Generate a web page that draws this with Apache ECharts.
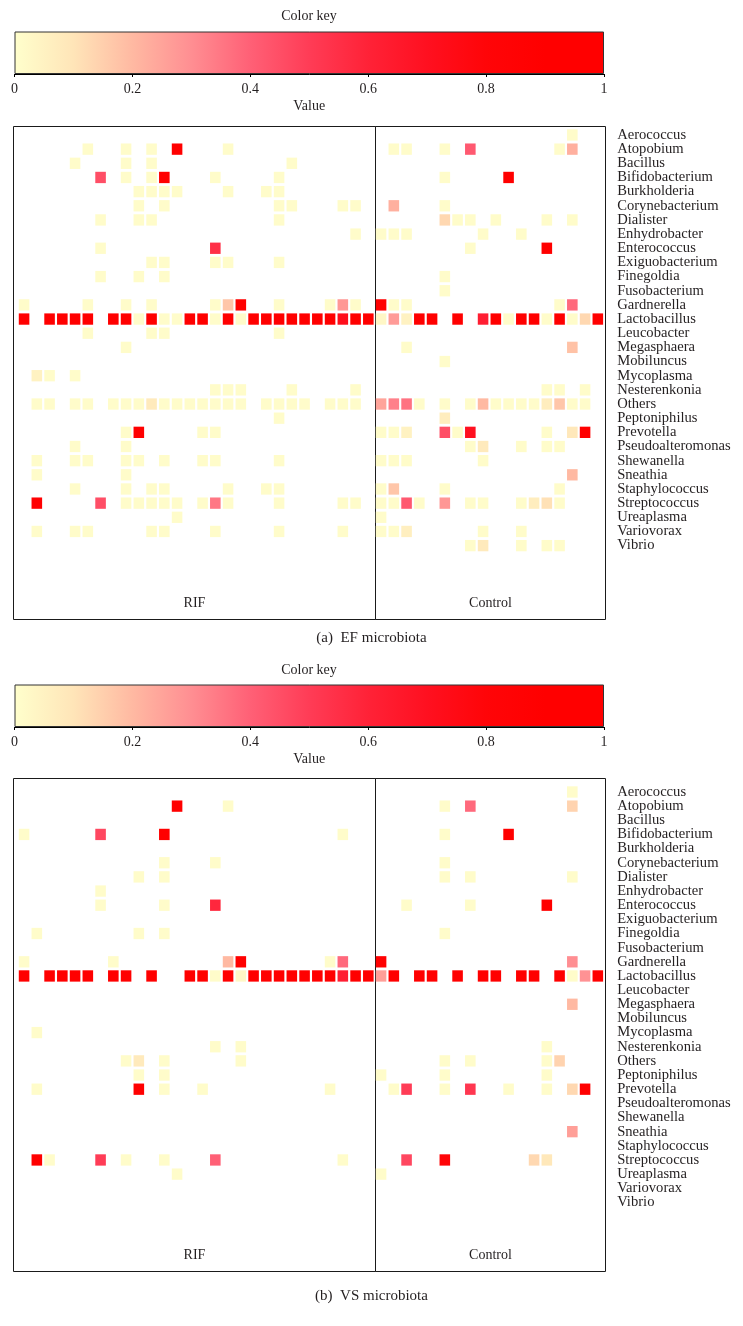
<!DOCTYPE html>
<html><head><meta charset="utf-8">
<script src="https://cdn.jsdelivr.net/npm/echarts@6/dist/echarts.min.js"></script>
<style>html,body{margin:0;padding:0;background:#fff}#c{width:743px;height:1326px}</style>
</head><body><div id="c"></div>
<script>
// ---------------- data ----------------
const genera = ['Aerococcus','Atopobium','Bacillus','Bifidobacterium','Burkholderia','Corynebacterium','Dialister','Enhydrobacter','Enterococcus','Exiguobacterium','Finegoldia','Fusobacterium','Gardnerella','Lactobacillus','Leucobacter','Megasphaera','Mobiluncus','Mycoplasma','Nesterenkonia','Others','Peptoniphilus','Prevotella','Pseudoalteromonas','Shewanella','Sneathia','Staphylococcus','Streptococcus','Ureaplasma','Variovorax','Vibrio'];
const groups = ['RIF', 'Control'];
const groupSizes = [28, 18];
const keyTicks = [0, 0.2, 0.4, 0.6, 0.8, 1];
const captions = ['(a)\u00a0\u00a0EF microbiota', '(b)\u00a0\u00a0VS microbiota'];
const P = 0.01; // pale-yellow cells

// each row: genus, then (sample index within group, value) pairs
const efRIF = [
 ['Atopobium', 5,P, 8,P, 10,P, 12,.9, 16,P],
 ['Bacillus', 4,P, 8,P, 10,P, 21,P],
 ['Bifidobacterium', 6,.45, 8,P, 10,P, 11,.9, 15,P, 20,P],
 ['Burkholderia', 9,P, 10,P, 11,P, 12,P, 16,P, 19,P, 20,P],
 ['Corynebacterium', 9,P, 11,P, 20,P, 21,P, 25,P, 26,P],
 ['Dialister', 6,P, 9,P, 10,P, 20,P],
 ['Enhydrobacter', 26,P],
 ['Enterococcus', 6,P, 15,.55],
 ['Exiguobacterium', 10,P, 11,P, 15,P, 16,P, 20,P],
 ['Finegoldia', 6,P, 9,P, 11,P],
 ['Gardnerella', 0,P, 5,P, 8,P, 10,P, 15,P, 16,.17, 17,.9, 20,P, 24,P, 25,.28, 26,P],
 ['Lactobacillus', 0,.9, 2,.9, 3,.9, 4,.9, 5,.9, 7,.9, 8,.9, 9,P, 10,.9, 11,P, 12,P, 13,.9, 14,.9, 15,P, 16,.9, 17,P, 18,.9, 19,.9, 20,.9, 21,.9, 22,.9, 23,.9, 24,.9, 25,.72, 26,.9, 27,.9],
 ['Leucobacter', 5,P, 10,P, 11,P, 20,P],
 ['Megasphaera', 8,P],
 ['Mycoplasma', 1,.05, 2,P, 4,P],
 ['Nesterenkonia', 15,P, 16,P, 17,P, 21,P, 26,P],
 ['Others', 1,P, 2,P, 4,P, 5,P, 7,P, 8,P, 9,P, 10,.08, 11,P, 12,P, 13,P, 14,P, 15,P, 16,P, 17,P, 19,P, 20,P, 21,P, 22,P, 24,P, 25,P, 26,P],
 ['Peptoniphilus', 20,P],
 ['Prevotella', 8,P, 9,.9, 14,P, 15,P],
 ['Pseudoalteromonas', 4,P, 8,P],
 ['Shewanella', 1,P, 4,P, 5,P, 8,P, 9,P, 11,P, 14,P, 15,P, 20,P],
 ['Sneathia', 1,P, 8,P],
 ['Staphylococcus', 4,P, 8,P, 10,P, 11,P, 16,P, 19,P, 20,P],
 ['Streptococcus', 1,.88, 6,.45, 8,P, 9,P, 10,P, 11,P, 12,P, 14,P, 15,.35, 16,P, 20,P, 25,P, 26,P],
 ['Ureaplasma', 12,P],
 ['Variovorax', 1,P, 4,P, 5,P, 10,P, 11,P, 15,P, 20,P, 25,P]
];
const efControl = [
 ['Aerococcus', 15,P],
 ['Atopobium', 1,P, 2,P, 5,P, 7,.42, 14,P, 15,.22],
 ['Bifidobacterium', 5,P, 10,.9],
 ['Corynebacterium', 1,.22, 5,P],
 ['Dialister', 5,.13, 6,P, 7,P, 9,P, 13,P, 15,P],
 ['Enhydrobacter', 0,P, 1,P, 2,P, 8,P, 11,P],
 ['Enterococcus', 7,P, 13,.9],
 ['Finegoldia', 5,P],
 ['Fusobacterium', 5,P],
 ['Gardnerella', 0,.88, 1,P, 2,P, 14,P, 15,.38],
 ['Lactobacillus', 0,.03, 1,.27, 2,.05, 3,.9, 4,.9, 6,.9, 8,.62, 9,.9, 10,P, 11,.9, 12,.9, 13,P, 14,.9, 15,P, 16,.13, 17,.9],
 ['Megasphaera', 2,P, 15,.18],
 ['Mobiluncus', 5,P],
 ['Nesterenkonia', 13,P, 14,P, 16,P],
 ['Others', 0,.25, 1,.33, 2,.36, 3,P, 5,P, 7,P, 8,.2, 9,P, 10,P, 11,P, 12,P, 13,.07, 14,.17, 15,P, 16,P],
 ['Peptoniphilus', 5,.07],
 ['Prevotella', 0,P, 1,P, 2,.05, 5,.45, 6,P, 7,.7, 13,P, 15,.09, 16,.9],
 ['Pseudoalteromonas', 7,P, 8,.08, 11,P, 13,P, 14,P],
 ['Shewanella', 0,P, 1,P, 2,P, 8,P],
 ['Sneathia', 15,.2],
 ['Staphylococcus', 0,P, 1,.17, 5,P, 14,P],
 ['Streptococcus', 0,P, 1,P, 2,.42, 3,P, 5,.28, 7,P, 8,P, 11,P, 12,.07, 13,.11, 14,P],
 ['Ureaplasma', 0,P],
 ['Variovorax', 0,P, 1,P, 2,.06, 8,P, 11,P],
 ['Vibrio', 7,P, 8,.08, 11,P, 13,P, 14,P]
];
const vsRIF = [
 ['Atopobium', 12,.9, 16,P],
 ['Bifidobacterium', 0,P, 6,.47, 11,.9, 25,P],
 ['Corynebacterium', 11,P, 15,P],
 ['Dialister', 9,P, 11,P],
 ['Enhydrobacter', 6,P],
 ['Enterococcus', 6,P, 11,P, 15,.58],
 ['Finegoldia', 1,P, 9,P, 11,P],
 ['Gardnerella', 0,P, 7,P, 16,.2, 17,.9, 24,P, 25,.38],
 ['Lactobacillus', 0,.9, 2,.9, 3,.9, 4,.9, 5,.9, 7,.9, 8,.9, 10,.9, 13,.9, 14,.9, 15,P, 16,.9, 17,.03, 18,.9, 19,.9, 20,.9, 21,.9, 22,.9, 23,.9, 24,.9, 25,.62, 26,.9, 27,.9],
 ['Mycoplasma', 1,P],
 ['Nesterenkonia', 15,P, 17,P],
 ['Others', 8,P, 9,.08, 11,P, 17,P],
 ['Peptoniphilus', 9,P, 11,P],
 ['Prevotella', 1,P, 9,.9, 11,P, 14,P, 24,P],
 ['Streptococcus', 1,.9, 2,P, 6,.5, 8,P, 11,P, 15,.4, 25,P],
 ['Ureaplasma', 12,P]
];
const vsControl = [
 ['Aerococcus', 15,P],
 ['Atopobium', 5,P, 7,.38, 15,.14],
 ['Bifidobacterium', 5,P, 10,.9],
 ['Corynebacterium', 5,P],
 ['Dialister', 5,P, 7,P, 15,P],
 ['Enterococcus', 2,P, 7,P, 13,.9],
 ['Finegoldia', 5,P],
 ['Gardnerella', 0,.88, 15,.3],
 ['Lactobacillus', 0,.26, 1,.9, 3,.9, 4,.9, 6,.9, 8,.9, 9,.9, 11,.9, 12,.9, 14,.9, 15,P, 16,.29, 17,.9],
 ['Megasphaera', 15,.2],
 ['Nesterenkonia', 13,P],
 ['Others', 5,P, 7,P, 13,P, 14,.14],
 ['Peptoniphilus', 0,P, 5,P, 13,P],
 ['Prevotella', 1,P, 2,.5, 5,P, 7,.52, 10,P, 13,P, 15,.13, 16,.9],
 ['Sneathia', 15,.26],
 ['Streptococcus', 2,.47, 5,.8, 12,.13, 13,.09],
 ['Ureaplasma', 0,P]
];

// ---------------- styles ----------------
const FONT = "'Liberation Serif', 'DejaVu Serif', serif";
const TXT = '#231f20';
const keyColors = ['#FFFFCC','#FFE5B8','#FFB9A2','#FF8E92','#FF6076','#FF3C56','#FF2237','#FF1020','#FF0508','#FF0000','#FF0000'];

// ---------------- build ----------------
const sampleIds = [];
groups.forEach((g, k) => { for (let i = 0; i < groupSizes[k]; i++) sampleIds.push(g + ' ' + (i + 1)); });

function buildCells(rif, ctrl) {
  const out = [];
  [rif, ctrl].forEach((rows, k) => {
    const offset = k === 0 ? 0 : groupSizes[0];
    rows.forEach(r => {
      const gi = genera.indexOf(r[0]);
      for (let j = 1; j < r.length; j += 2) out.push([offset + r[j], gi, r[j + 1]]);
    });
  });
  return out;
}

const panels = [
  { keyTop: 31.5, titleY: 16.5, heatTop: 127.9, heatH: 424.8, frameTop: 126.5, frameH: 493, capY: 638, cells: buildCells(efRIF, efControl) },
  { keyTop: 684.5, titleY: 670, heatTop: 784.9, heatH: 424.6, frameTop: 778.5, frameH: 493, capY: 1296, cells: buildCells(vsRIF, vsControl) }
];

const gradient = {
  type: 'linear', x: 0, y: 0, x2: 1, y2: 0,
  colorStops: keyColors.map((c, i) => ({ offset: i / (keyColors.length - 1), color: c }))
};

function renderCell(params, api) {
  const p = api.coord([api.value(0), api.value(1)]);
  const s = api.size([1, 1]);
  const w = s[0] * 0.83, h = s[1] * 0.8;
  return { type: 'rect', shape: { x: p[0] - w / 2, y: p[1] - h / 2, width: w, height: h },
           style: { fill: api.visual('color') } };
}

const option = { animation: false, textStyle: { fontFamily: FONT, color: TXT },
  grid: [], xAxis: [], yAxis: [], series: [], visualMap: [], graphic: [] };

const HEAT_LEFT = 17.7, HEAT_W = 586.5;
const FRAME_L = 13.5, FRAME_DIV = 375.5, FRAME_R = 605.5;

panels.forEach((p, k) => {
  // colour key
  let gi = option.grid.length;
  option.grid.push({ left: 14.5, top: p.keyTop, width: 589.5, height: 42.5 });
  option.xAxis.push({ gridIndex: gi, type: 'value', min: keyTicks[0], max: keyTicks[keyTicks.length - 1],
    interval: keyTicks[1] - keyTicks[0],
    axisLine: { show: true, lineStyle: { color: '#000', width: 1 } },
    axisTick: { show: true, length: 3, lineStyle: { color: '#000' } },
    axisLabel: { fontSize: 14, margin: 8, color: TXT, fontFamily: FONT },
    splitLine: { show: false },
    name: 'Value', nameLocation: 'middle', nameGap: 25,
    nameTextStyle: { fontSize: 14, color: TXT, fontFamily: FONT } });
  option.yAxis.push({ gridIndex: gi, type: 'category', data: ['key'], show: false });
  option.series.push({ type: 'bar', xAxisIndex: gi, yAxisIndex: gi, data: [keyTicks[keyTicks.length - 1]],
    barWidth: '100%', silent: true,
    itemStyle: { color: gradient, borderColor: '#333', borderWidth: 1 } });

  // heat map
  gi = option.grid.length;
  option.grid.push({ left: HEAT_LEFT, top: p.heatTop, width: HEAT_W, height: p.heatH });
  option.xAxis.push({ gridIndex: gi, type: 'category', data: sampleIds, show: false });
  option.yAxis.push({ gridIndex: gi, type: 'category', data: genera, inverse: true, position: 'right',
    axisLine: { show: false }, axisTick: { show: false }, splitLine: { show: false },
    axisLabel: { margin: 13, fontSize: 14.6, color: TXT, fontFamily: FONT, interval: 0, padding: [3, 0, 0, 0] } });
  const si = option.series.length;
  option.series.push({ type: 'custom', coordinateSystem: 'cartesian2d', xAxisIndex: gi, yAxisIndex: gi,
    data: p.cells, encode: { x: 0, y: 1 }, renderItem: renderCell, silent: true });
  option.visualMap.push({ type: 'continuous', show: false, min: 0, max: 1, dimension: 2,
    seriesIndex: si, inRange: { color: keyColors } });

  // frames with group labels
  [[FRAME_L, FRAME_DIV], [FRAME_DIV, FRAME_R]].forEach((lr, g) => {
    const fi = option.grid.length;
    option.grid.push({ left: lr[0], top: p.frameTop, width: lr[1] - lr[0], height: p.frameH,
      show: true, borderColor: '#1a1a1a', borderWidth: 1, backgroundColor: 'transparent' });
    option.xAxis.push({ gridIndex: fi, type: 'category', data: [groups[g]],
      axisLine: { show: false }, axisTick: { show: false }, splitLine: { show: false },
      axisLabel: { inside: true, margin: 9, fontSize: 14, color: TXT, fontFamily: FONT } });
    option.yAxis.push({ gridIndex: fi, type: 'value', show: false });
  });

  option.graphic.push({ type: 'text', x: 309, y: p.titleY, silent: true,
    style: { text: 'Color key', fontSize: 14, fontFamily: FONT, fill: TXT,
      align: 'center', verticalAlign: 'middle', textAlign: 'center', textVerticalAlign: 'middle' } });
  option.graphic.push({ type: 'text', x: 371.5, y: p.capY, silent: true,
    style: { text: captions[k], fontSize: 15, fontFamily: FONT, fill: TXT,
      align: 'center', verticalAlign: 'middle', textAlign: 'center', textVerticalAlign: 'middle' } });
});

const chart = echarts.init(document.getElementById('c'), null, { renderer: 'canvas' });
chart.setOption(option);
</script>
</body></html>
